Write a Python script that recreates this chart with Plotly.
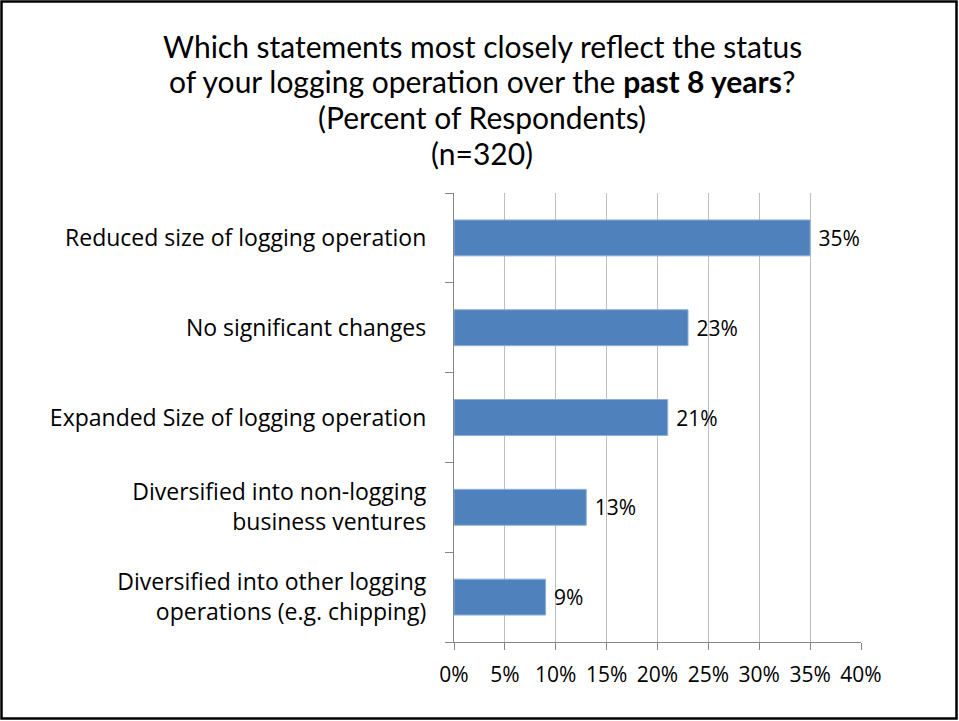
import plotly.graph_objects as go

categories = [
    "Reduced size of logging operation",
    "No significant changes",
    "Expanded Size of logging operation",
    "Diversified into non-logging<br>business ventures",
    "Diversified into other logging<br>operations (e.g. chipping)",
]
values = [35, 23, 21, 13, 9]
x_ticks = [0, 5, 10, 15, 20, 25, 30, 35, 40]
x_tick_labels = ["0%", "5%", "10%", "15%", "20%", "25%", "30%", "35%", "40%"]
title_lines = [
    "Which statements most closely reflect the status",
    "of your logging operation over the <b>past 8 years</b>?",
    "(Percent of Respondents)",
    "(n=320)",
]

W, H = 959, 721
ML, MR, MT, MB = 454, 98, 193, 79
PW, PH = W - ML - MR, H - MT - MB


def px_x(p):
    return (p - ML) / PW


def px_y(p):
    return 1 + (MT - p) / PH


fig = go.Figure()

fig.add_trace(go.Bar(
    x=values,
    y=categories,
    orientation="h",
    marker=dict(color="#4F81BD", line=dict(color="#8EAFD8", width=1)),
    text=[f" {v}%" for v in values],
    textposition="outside",
    textfont=dict(family="Open Sans", size=21, color="#000000"),
    cliponaxis=False,
    width=0.4,
))

# title, one line each
for i, line in enumerate(title_lines):
    fig.add_annotation(
        text=line, xref="paper", yref="paper",
        x=px_x(482), y=px_y(46 + 35.5 * i),
        xanchor="center", yanchor="middle", showarrow=False,
        font=dict(family="Lato", size=30, color="#000000"),
    )

# outer frame
fig.add_shape(
    type="rect", xref="paper", yref="paper",
    x0=px_x(1.5), x1=px_x(956.5),
    y0=px_y(1.5), y1=px_y(718.5),
    line=dict(color="#000000", width=2.5),
    layer="above",
)

fig.update_layout(
    width=W, height=H,
    margin=dict(l=ML, r=MR, t=MT, b=MB),
    paper_bgcolor="#FFFFFF",
    plot_bgcolor="#FFFFFF",
    showlegend=False,
    font=dict(family="Open Sans", size=21, color="#000000"),
    xaxis=dict(
        range=[0, 40],
        tickvals=x_ticks,
        ticktext=x_tick_labels,
        showgrid=True, gridcolor="#BFBFBF", gridwidth=1.3,
        showline=True, linecolor="#868686", linewidth=1.3,
        ticks="outside", ticklen=7, tickcolor="#868686",
        zeroline=False,
        ticklabelstandoff=7,
        tickfont=dict(family="Open Sans", size=21),
        automargin=False,
    ),
    yaxis=dict(
        categoryorder="array",
        categoryarray=categories[::-1],
        showgrid=False,
        showline=True, linecolor="#868686", linewidth=1.3,
        ticks="outside", ticklen=8, tickcolor="#868686",
        tickson="boundaries",
        ticklabelstandoff=22,
        tickfont=dict(family="Open Sans", size=23),
        automargin=False,
    ),
)

fig.write_html("out.html", config={"displayModeBar": False},
               post_script="document.body.style.margin='0';")
